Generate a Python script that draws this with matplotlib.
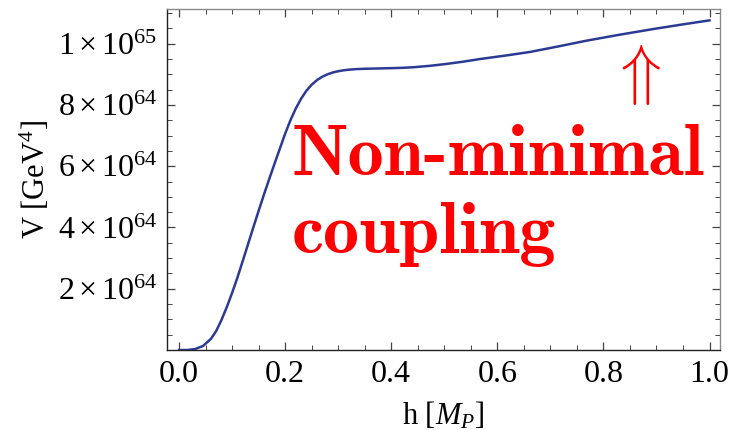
import os
import matplotlib
matplotlib.use('Agg')
import matplotlib.pyplot as plt
from matplotlib import font_manager
from matplotlib.ticker import FixedLocator, MultipleLocator

# curve: h in Planck masses, V in units of 1e64 GeV^4
h_vals = [0.0, 0.015, 0.03, 0.045, 0.06, 0.07, 0.08, 0.09, 0.10, 0.11,
          0.12, 0.13, 0.14, 0.15, 0.16, 0.17, 0.18, 0.19, 0.20, 0.21,
          0.22, 0.23, 0.24, 0.25, 0.26, 0.27, 0.28, 0.29, 0.30, 0.31,
          0.32, 0.335, 0.35, 0.375, 0.40, 0.42, 0.442, 0.475, 0.505,
          0.535, 0.568, 0.615, 0.662, 0.715, 0.769, 0.83, 0.895, 0.95, 1.0]
v_vals = [0.0, 0.0, 0.03, 0.13, 0.36, 0.62, 0.98, 1.40, 1.86, 2.36,
          2.90, 3.45, 4.00, 4.54, 5.07, 5.58, 6.08, 6.57, 7.06, 7.50,
          7.88, 8.20, 8.46, 8.66, 8.81, 8.92, 9.00, 9.06, 9.10, 9.13,
          9.15, 9.17, 9.18, 9.19, 9.20, 9.21, 9.23, 9.28, 9.34,
          9.41, 9.50, 9.61, 9.73, 9.91, 10.10, 10.29, 10.48, 10.63, 10.76]

y_ticks = [2, 4, 6, 8, 10]
y_tick_labels = [r'$2\times10^{64}$', r'$4\times10^{64}$', r'$6\times10^{64}$',
                 r'$8\times10^{64}$', r'$1\times10^{65}$']
x_ticks = [0.0, 0.2, 0.4, 0.6, 0.8, 1.0]
x_tick_labels = ['0.0', '0.2', '0.4', '0.6', '0.8', '1.0']

plt.rcParams['font.family'] = ['Liberation Serif', 'DejaVu Serif']
plt.rcParams['mathtext.fontset'] = 'custom'
plt.rcParams['mathtext.rm'] = 'Liberation Serif'
plt.rcParams['mathtext.it'] = 'Liberation Serif:italic'
plt.rcParams['mathtext.bf'] = 'Liberation Serif:bold'

# bold Computer Modern shipped with matplotlib for the red annotation
cmb_path = os.path.join(matplotlib.get_data_path(), 'fonts', 'ttf', 'cmb10.ttf')
font_manager.fontManager.addfont(cmb_path)
cmb_name = font_manager.FontProperties(fname=cmb_path).get_name()

fig = plt.figure(figsize=(7.31, 4.30), dpi=100)
ax = fig.add_axes([0.2285, 0.186, 0.7565, 0.793])

ax.plot(h_vals, v_vals, color='#2b3b94', lw=1.8, clip_on=True)

ax.set_xlim(-0.0226, 1.0198)
ax.set_ylim(0, 11.13)

ax.xaxis.set_major_locator(FixedLocator(x_ticks))
ax.set_xticklabels(x_tick_labels)
ax.xaxis.set_minor_locator(MultipleLocator(0.05))
ax.yaxis.set_major_locator(FixedLocator(y_ticks))
ax.set_yticklabels(y_tick_labels)
ax.yaxis.set_minor_locator(MultipleLocator(0.5))

ax.tick_params(which='both', direction='in', top=True, right=True,
               labelsize=23, color='#444444')
ax.tick_params(which='major', length=6, width=0.9, pad=7)
ax.tick_params(which='minor', length=3.5, width=0.7)

for side in ['left', 'bottom']:
    ax.spines[side].set_color('#222222')
    ax.spines[side].set_linewidth(1.0)
for side in ['top', 'right']:
    ax.spines[side].set_color('#8a8a8a')
    ax.spines[side].set_linewidth(1.0)

ax.set_xlabel(r'h [$M_P$]', fontsize=22, labelpad=8)
ax.set_ylabel(r'V [GeV$^4$]', fontsize=22, labelpad=4)

# annotation
fig.text(292 / 731, 1 - 175 / 430, 'Non-minimal', family=cmb_name,
         fontsize=52, color='#ff0000', ha='left', va='baseline')
fig.text(292 / 731, 1 - 253 / 430, 'coupling', family=cmb_name,
         fontsize=52, color='#ff0000', ha='left', va='baseline')
fig.text(635 / 731, 1 - 107 / 430, r'$\Uparrow$', math_fontfamily='cm',
         fontsize=48, color='#ff0000', ha='center', va='bottom')

fig.savefig('out.png', dpi=100)
